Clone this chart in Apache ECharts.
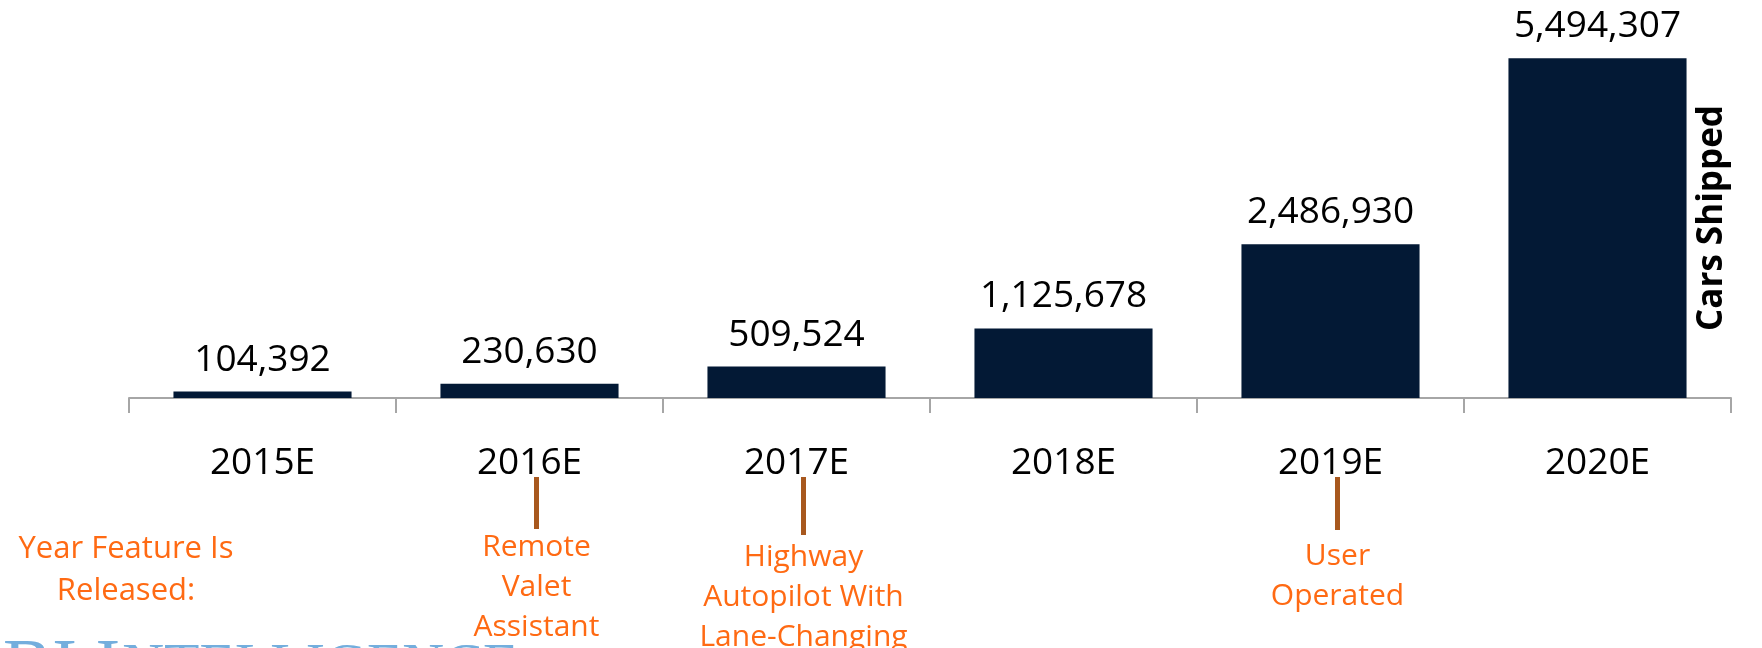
<!DOCTYPE html>
<html>
<head>
<meta charset="utf-8">
<script src="https://cdn.jsdelivr.net/npm/echarts@6/dist/echarts.min.js"></script>
<style>
html,body{margin:0;padding:0;background:#fff;}
#main{width:1762px;height:648px;}
</style>
</head>
<body>
<div id="main"></div>
<script>
const categories = ['2015E', '2016E', '2017E', '2018E', '2019E', '2020E'];
const carsShipped = [104392, 230630, 509524, 1125678, 2486930, 5494307];
const featureYears = ['2016E', '2017E', '2019E'];
const featureNames = ['Remote\nValet\nAssistant', 'Highway\nAutopilot With\nLane-Changing', 'User\nOperated'];
const featureIntro = 'Year Feature Is\nReleased:';
const axisTitle = 'Cars Shipped';
const watermarkBig = 'BI I';
const watermarkSmall = 'NTELLIGENCE';

// layout (pixel placement of annotation text blocks and connector ends)
const annotTextTop = [527, 537, 536];
const annotLineEnd = [529, 535, 530];

const FONT = '"Open Sans", "Noto Sans", sans-serif';
const SERIF = '"Liberation Serif", "DejaVu Serif", serif';
const chart = echarts.init(document.getElementById('main'), null, {renderer: 'canvas'});

chart.setOption({
  animation: false,
  backgroundColor: '#ffffff',
  grid: {left: 129, right: 31, top: 27, bottom: 250, containLabel: false},
  xAxis: {
    type: 'category',
    data: categories,
    boundaryGap: true,
    axisLine: {show: true, lineStyle: {color: '#a6a6a6', width: 2}},
    axisTick: {show: true, length: 15, lineStyle: {color: '#a6a6a6', width: 2}},
    axisLabel: {color: '#000', fontSize: 37, fontFamily: FONT, margin: 47}
  },
  yAxis: {
    type: 'value',
    min: 0,
    max: 6000000,
    show: false,
    splitLine: {show: false}
  },
  series: [{
    type: 'bar',
    data: carsShipped,
    barCategoryGap: '33.3%',
    itemStyle: {color: '#031935'},
    label: {
      show: true,
      position: 'top',
      distance: 13,
      color: '#000',
      fontSize: 37,
      fontFamily: FONT,
      formatter: p => p.value.toLocaleString('en-US')
    }
  }]
});

function measure(text, font) {
  const c = document.createElement('canvas').getContext('2d');
  c.font = font;
  return c.measureText(text).width;
}

function addGraphics() {
  const els = [];
  featureYears.forEach((yr, i) => {
    const x = chart.convertToPixel({xAxisIndex: 0}, yr) + 7;
    els.push({
      type: 'line',
      shape: {x1: x, y1: 477, x2: x, y2: annotLineEnd[i]},
      style: {stroke: '#A8581E', lineWidth: 5}
    });
    els.push({
      type: 'text',
      x: x, y: annotTextTop[i],
      style: {
        text: featureNames[i],
        fill: '#FF6A13',
        font: '30px ' + FONT,
        lineHeight: 40,
        textAlign: 'center',
        textVerticalAlign: 'top'
      }
    });
  });
  els.push({
    type: 'text',
    x: 126, y: 528,
    style: {
      text: featureIntro,
      fill: '#FF6A13',
      font: '31px ' + FONT,
      lineHeight: 42,
      textAlign: 'center',
      textVerticalAlign: 'top'
    }
  });
  els.push({
    type: 'text',
    x: 1712, y: 218,
    rotation: Math.PI / 2,
    style: {
      text: axisTitle,
      fill: '#000',
      font: 'bold 35px ' + FONT,
      textAlign: 'center',
      textVerticalAlign: 'middle'
    }
  });
  const bigFont = '74px ' + SERIF;
  const smallFont = '58px ' + SERIF;
  const bigW = measure(watermarkBig, bigFont);
  els.push({
    type: 'text',
    x: 3, y: 634,
    z: -1,
    style: {text: watermarkBig, fill: '#74AEDD', font: bigFont, textAlign: 'left', textVerticalAlign: 'top'}
  });
  els.push({
    type: 'text',
    x: 3 + bigW + 2, y: 639,
    z: -1,
    style: {text: watermarkSmall, fill: '#74AEDD', font: smallFont, textAlign: 'left', textVerticalAlign: 'top'}
  });
  chart.setOption({graphic: {elements: els}});
}
addGraphics();
</script>
</body>
</html>
